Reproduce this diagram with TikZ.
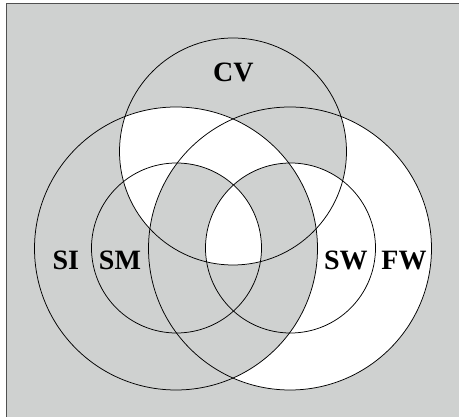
\documentclass[tikz,border=0pt]{standalone}
\usepackage{fontspec}
\setmainfont{Liberation Serif}
\definecolor{bggray}{RGB}{207,209,208}
\definecolor{framegray}{RGB}{80,80,80}
\tikzset{
  ring/.style={draw=black, line width=0.75pt},
  setlabel/.style={font=\fontsize{28}{30}\selectfont\bfseries, anchor=base, inner sep=0pt},
}
\newcommand{\rbig}{141.5pt}
\newcommand{\rsmall}{85pt}
\newcommand{\rcv}{113.5pt}
\begin{document}
\begin{tikzpicture}[x=1pt, y=-1pt]
    \useasboundingbox (0,0) rectangle (459,417);
    % 背景と枠
    \fill[white] (0,0) rectangle (459,417);
    \begin{scope}
      \clip (0,0) rectangle (459,417);
      \draw[fill=bggray, draw=framegray, line width=1.6pt] (6.5,3.5) rectangle (480,440);
    \end{scope}
    % 円の中心
    \coordinate (cv) at (233,151.5);
    \coordinate (si) at (176,248.5);
    \coordinate (fw) at (290,248.5);
    \coordinate (sm) at (176.5,248);
    \coordinate (sw) at (290.5,248);
    % CV の外側
    \fill[white] (fw) circle (\rbig);
    \fill[bggray] (si) circle (\rbig);
    % CV の内側
    \begin{scope}
      \clip (cv) circle (\rcv);
      \fill[bggray] (cv) circle (\rcv);
      \fill[white] (sw) circle (\rsmall);
      \fill[white] (si) circle (\rbig);
      \begin{scope}
        \clip (fw) circle (\rbig);
        \fill[bggray] (sm) circle (\rsmall);
      \end{scope}
      \begin{scope}
        \clip (si) circle (\rbig);
        \fill[bggray] (sw) circle (\rsmall);
      \end{scope}
      \begin{scope}
        \clip (sm) circle (\rsmall);
        \fill[white] (sw) circle (\rsmall);
      \end{scope}
    \end{scope}
    % 円の輪郭
    \draw[ring] (cv) circle (\rcv);
    \draw[ring] (si) circle (\rbig);
    \draw[ring] (fw) circle (\rbig);
    \draw[ring] (sm) circle (\rsmall);
    \draw[ring] (sw) circle (\rsmall);
    % ラベル
    \node[setlabel] (cvlabel) at (233.3,81.5) {CV};
    \node[setlabel] (silabel) at (65.8,270) {SI};
    \node[setlabel] (smlabel) at (120,270) {SM};
    \node[setlabel] (swlabel) at (345.8,270) {SW};
    \node[setlabel] (fwlabel) at (404,270) {FW};
\end{tikzpicture}
\end{document}
